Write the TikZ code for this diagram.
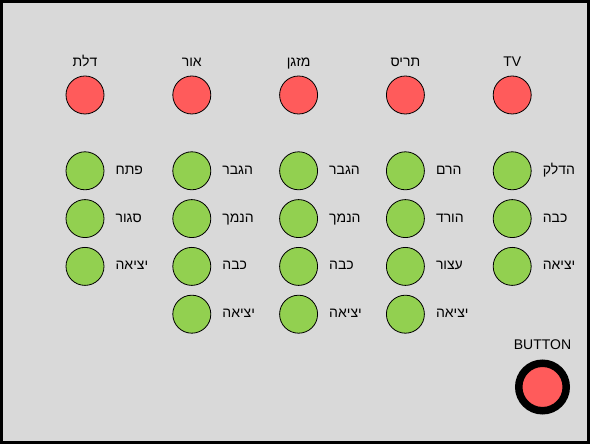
\documentclass[tikz,border=0pt]{standalone}
\usepackage{fontspec}
\setmainfont{Liberation Sans}
\newfontfamily\hebfont[Script=Hebrew]{Liberation Sans}
\TeXXeTstate=1
\usetikzlibrary{positioning}
\definecolor{panelgray}{HTML}{D9D9D9}
\definecolor{ledred}{HTML}{FF5B5B}
\definecolor{ledgreen}{HTML}{92D050}
\newcommand{\heb}[1]{\hebfont\beginR #1\endR}

\begin{document}
\begin{tikzpicture}[x=1pt, y=1pt,
  node distance=9pt and 68pt,
  device/.style={draw, circle, fill=ledred, minimum size=38pt, inner sep=0pt, line width=0.8pt},
  action/.style={draw, circle, fill=ledgreen, minimum size=38pt, inner sep=0pt, line width=0.8pt},
  devname/.style={font=\fontsize{14}{16}\selectfont, inner sep=0pt, text height=10pt, text depth=3pt},
  actname/.style={devname, anchor=west}
]
\useasboundingbox (0,0) rectangle (590,444);
\draw[line width=3pt, fill=panelgray] (1.5,1.5) rectangle (588.5,442.5);

% devices
\node[device] (door) at (85,349) {};
\node[device, right=of door] (light) {};
\node[device, right=of light] (aircon) {};
\node[device, right=of aircon] (shutter) {};
\node[device, right=of shutter] (tv) {};

\node[devname, above=6pt of door] (doorLbl) {\heb{דלת}};
\node[devname, above=6pt of light] (lightLbl) {\heb{אור}};
\node[devname, above=6pt of aircon] (airconLbl) {\heb{מזגן}};
\node[devname, above=6pt of shutter] (shutterLbl) {\heb{תריס}};
\node[devname, above=6pt of tv] (tvLbl) {TV};

% door
\node[action, below=37pt of door] (doorOpen) {};
\node[action, below=of doorOpen] (doorClose) {};
\node[action, below=of doorClose] (doorExit) {};
\node[actname, right=11pt of doorOpen] {\heb{פתח}};
\node[actname, right=11pt of doorClose] {\heb{סגור}};
\node[actname, right=11pt of doorExit] {\heb{יציאה}};

% light
\node[action, below=37pt of light] (lightUp) {};
\node[action, below=of lightUp] (lightDown) {};
\node[action, below=of lightDown] (lightOff) {};
\node[action, below=of lightOff] (lightExit) {};
\node[actname, right=11pt of lightUp] {\heb{הגבר}};
\node[actname, right=11pt of lightDown] {\heb{הנמך}};
\node[actname, right=11pt of lightOff] {\heb{כבה}};
\node[actname, right=11pt of lightExit] {\heb{יציאה}};

% air conditioner
\node[action, below=37pt of aircon] (airconUp) {};
\node[action, below=of airconUp] (airconDown) {};
\node[action, below=of airconDown] (airconOff) {};
\node[action, below=of airconOff] (airconExit) {};
\node[actname, right=11pt of airconUp] {\heb{הגבר}};
\node[actname, right=11pt of airconDown] {\heb{הנמך}};
\node[actname, right=11pt of airconOff] {\heb{כבה}};
\node[actname, right=11pt of airconExit] {\heb{יציאה}};

% shutter
\node[action, below=37pt of shutter] (shutterUp) {};
\node[action, below=of shutterUp] (shutterDown) {};
\node[action, below=of shutterDown] (shutterStop) {};
\node[action, below=of shutterStop] (shutterExit) {};
\node[actname, right=11pt of shutterUp] {\heb{הרם}};
\node[actname, right=11pt of shutterDown] {\heb{הורד}};
\node[actname, right=11pt of shutterStop] {\heb{עצור}};
\node[actname, right=11pt of shutterExit] {\heb{יציאה}};

% tv
\node[action, below=37pt of tv] (tvOn) {};
\node[action, below=of tvOn] (tvOff) {};
\node[action, below=of tvOff] (tvExit) {};
\node[actname, right=11pt of tvOn] {\heb{הדלק}};
\node[actname, right=11pt of tvOff] {\heb{כבה}};
\node[actname, right=11pt of tvExit] {\heb{יציאה}};

% push button
\node[draw, circle, fill=ledred, line width=7.5pt, minimum size=47.5pt, inner sep=0pt] (button) at (542.5,57) {};
\node[devname, above=6.5pt of button] (buttonLbl) {BUTTON};
\end{tikzpicture}
\end{document}
